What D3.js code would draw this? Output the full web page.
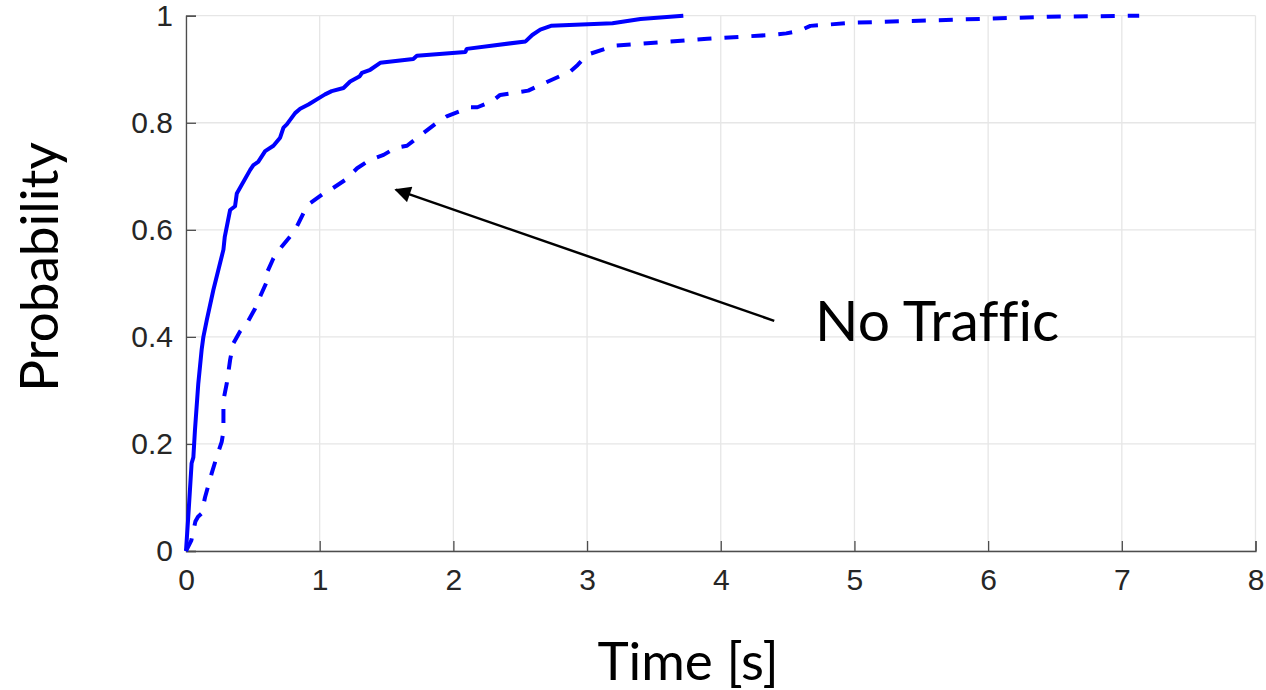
<!DOCTYPE html>
<html>
<head>
<meta charset="utf-8">
<script src="https://cdn.jsdelivr.net/npm/d3@7"></script>
<style>
  html, body { margin: 0; padding: 0; background: #fff; }
  svg { display: block; }
  text { font-variant-ligatures: none; font-feature-settings: "liga" 0, "clig" 0; }
</style>
</head>
<body>
<svg id="chart" width="1266" height="690"></svg>
<script>
// ---- data ----
const xTicks = [0, 1, 2, 3, 4, 5, 6, 7, 8];
const yTicks = [0, 0.2, 0.4, 0.6, 0.8, 1];
const yTickLabels = ["0", "0.2", "0.4", "0.6", "0.8", "1"];

const solidX = [0, 0.017, 0.042, 0.055, 0.067, 0.092, 0.117, 0.13, 0.155, 0.205, 0.255, 0.28, 0.29, 0.33, 0.367, 0.38, 0.417, 0.48, 0.504, 0.54, 0.592, 0.654, 0.704, 0.729, 0.754, 0.816, 0.854, 0.916, 1.0, 1.04, 1.09, 1.178, 1.228, 1.30, 1.316, 1.378, 1.453, 1.70, 1.727, 2.09, 2.10, 2.54, 2.59, 2.65, 2.73, 3.19, 3.40, 3.72];
const solidY = [0, 0.064, 0.164, 0.175, 0.226, 0.313, 0.376, 0.40, 0.431, 0.488, 0.538, 0.563, 0.587, 0.637, 0.644, 0.668, 0.684, 0.712, 0.721, 0.727, 0.747, 0.757, 0.772, 0.791, 0.797, 0.818, 0.826, 0.834, 0.847, 0.853, 0.859, 0.865, 0.877, 0.887, 0.893, 0.899, 0.912, 0.919, 0.925, 0.932, 0.938, 0.952, 0.964, 0.974, 0.981, 0.986, 0.994, 1.0];

const noTrafficX = [0, 0.04, 0.07, 0.09, 0.117, 0.142, 0.192, 0.23, 0.267, 0.28, 0.28, 0.305, 0.33, 0.354, 0.404, 0.455, 0.517, 0.554, 0.604, 0.604, 0.654, 0.717, 0.79, 0.829, 0.904, 0.929, 1.03, 1.10, 1.19, 1.28, 1.378, 1.478, 1.566, 1.653, 1.73, 1.877, 1.95, 2.127, 2.18, 2.29, 2.35, 2.56, 2.68, 2.876, 2.93, 3.0, 3.21, 3.90, 4.375, 4.49, 4.59, 4.67, 5.0, 5.94, 6.45, 7.13];
const noTrafficY = [0, 0.02, 0.055, 0.064, 0.07, 0.10, 0.145, 0.176, 0.204, 0.223, 0.282, 0.313, 0.357, 0.388, 0.41, 0.425, 0.453, 0.475, 0.503, 0.519, 0.547, 0.569, 0.591, 0.606, 0.644, 0.65, 0.668, 0.678, 0.693, 0.715, 0.731, 0.74, 0.753, 0.757, 0.772, 0.80, 0.812, 0.829, 0.829, 0.84, 0.852, 0.86, 0.874, 0.896, 0.908, 0.927, 0.944, 0.957, 0.964, 0.967, 0.972, 0.981, 0.987, 0.994, 0.998, 1.0];

const annotationText = "No Traffic";
const annotationTail = [4.4, 0.43];   // data coords of arrow tail
const annotationHead = [1.57, 0.675]; // data coords of arrow head
const xLabel = "Time [s]";
const yLabel = "Probability";

// ---- layout ----
const svg = d3.select("#chart");
const x = d3.scaleLinear().domain([0, 8]).range([186, 1255.5]);
const y = d3.scaleLinear().domain([0, 1]).range([551, 15.7]);

// grid
const grid = svg.append("g");
grid.selectAll(".gx").data(xTicks).join("line")
  .attr("x1", d => x(d)).attr("x2", d => x(d))
  .attr("y1", y(0)).attr("y2", y(1))
  .attr("stroke", "#e6e6e6").attr("stroke-width", 1.3);
grid.selectAll(".gy").data(yTicks).join("line")
  .attr("x1", x(0)).attr("x2", x(8))
  .attr("y1", d => y(d)).attr("y2", d => y(d))
  .attr("stroke", "#e6e6e6").attr("stroke-width", 1.3);

// axes (MATLAB style: inward ticks)
const axisColor = "#4d4d4d";
const xAxis = d3.axisBottom(x).tickValues(xTicks).tickSize(-10).tickPadding(18).tickFormat(d3.format("d"));
const gx = svg.append("g").attr("transform", `translate(0,${y(0)})`).call(xAxis);
gx.select(".domain").attr("stroke", axisColor).attr("stroke-width", 1.3);
gx.selectAll(".tick line").attr("stroke", axisColor).attr("stroke-width", 1.3);
gx.selectAll(".tick text")
  .attr("fill", "#262626").attr("font-family", "Liberation Sans, Arial, sans-serif").attr("font-size", 30);

const yAxis = d3.axisLeft(y).tickValues(yTicks).tickSize(-10).tickPadding(13)
  .tickFormat((d, i) => yTickLabels[i]);
const gy = svg.append("g").attr("transform", `translate(${x(0)},0)`).call(yAxis);
gy.select(".domain").attr("stroke", axisColor).attr("stroke-width", 1.3);
gy.selectAll(".tick line").attr("stroke", axisColor).attr("stroke-width", 1.3);
gy.selectAll(".tick text")
  .attr("fill", "#262626").attr("font-family", "Liberation Sans, Arial, sans-serif").attr("font-size", 30);

// lines
const line = d3.line().x(d => x(d[0])).y(d => y(d[1]));
const solidData = solidX.map((v, i) => [v, solidY[i]]);
const dashedData = noTrafficX.map((v, i) => [v, noTrafficY[i]]);

svg.append("path").datum(dashedData).attr("d", line)
  .attr("fill", "none").attr("stroke", "#0000ff").attr("stroke-width", 4)
  .attr("stroke-dasharray", "14 13").attr("stroke-linejoin", "round");
svg.append("path").datum(solidData).attr("d", line)
  .attr("fill", "none").attr("stroke", "#0000ff").attr("stroke-width", 4)
  .attr("stroke-linejoin", "round");

// arrow annotation
const defs = svg.append("defs");
defs.append("marker").attr("id", "ah").attr("viewBox", "0 0 10 10")
  .attr("refX", 9).attr("refY", 5).attr("markerWidth", 7.5).attr("markerHeight", 6.5)
  .attr("markerUnits", "strokeWidth").attr("orient", "auto")
  .append("path").attr("d", "M0,0 L10,5 L0,10 Z").attr("fill", "#000");
svg.append("line")
  .attr("x1", x(annotationTail[0])).attr("y1", y(annotationTail[1]))
  .attr("x2", x(annotationHead[0])).attr("y2", y(annotationHead[1]))
  .attr("stroke", "#000").attr("stroke-width", 2.5).attr("marker-end", "url(#ah)");

svg.append("text").attr("x", 815).attr("y", 341)
  .attr("font-family", "Lato, 'Open Sans', sans-serif").attr("font-size", 57)
  .attr("fill", "#000").text(annotationText);

// axis titles
svg.append("text").attr("x", 688).attr("y", 680).attr("text-anchor", "middle")
  .attr("font-family", "Lato, sans-serif").attr("font-size", 53).attr("fill", "#000").text(xLabel);
svg.append("text").attr("transform", "translate(58,267) rotate(-90)").attr("text-anchor", "middle")
  .attr("font-family", "Lato, sans-serif").attr("font-size", 53).attr("fill", "#000").text(yLabel);
</script>
</body>
</html>
